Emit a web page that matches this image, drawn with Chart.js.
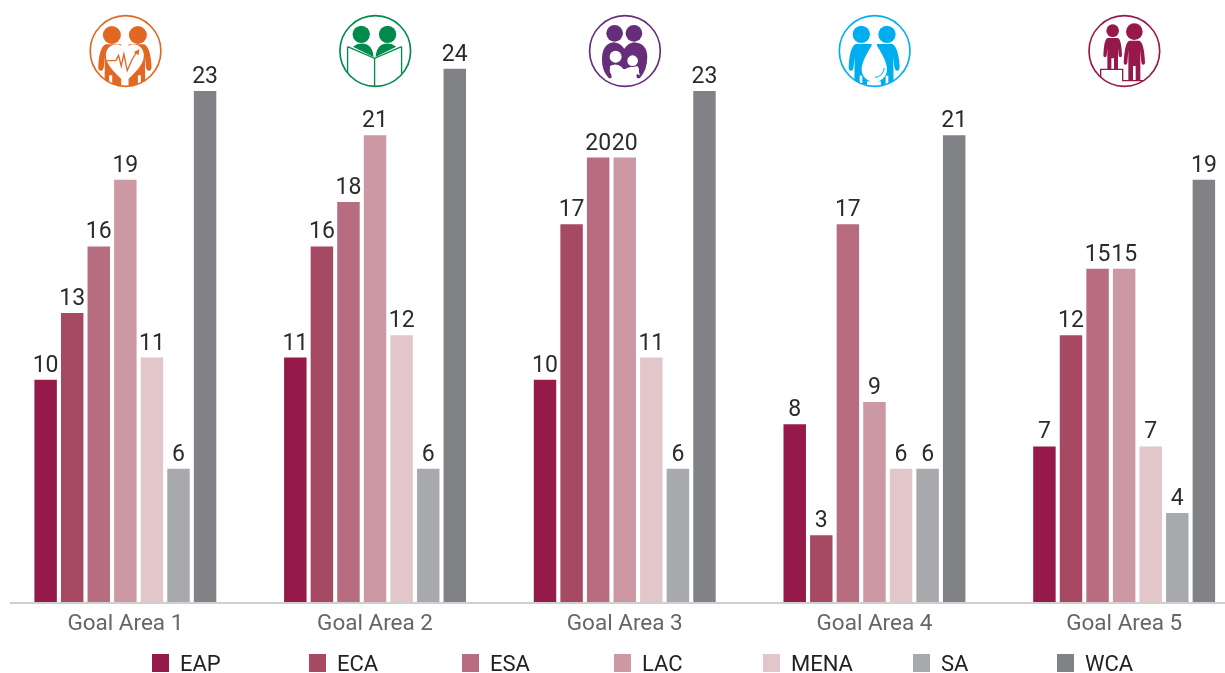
<!DOCTYPE html>
<html>
<head>
<meta charset="utf-8">
<style>
html,body{margin:0;padding:0;background:#fff;overflow:hidden;width:1225px;height:673px}
canvas{display:block}
</style>
<script src="https://cdn.jsdelivr.net/npm/chart.js@4"></script>
</head>
<body>
<canvas id="c" width="1250" height="673" style="width:1250px;height:673px"></canvas>
<script>
const categories = ['Goal Area 1','Goal Area 2','Goal Area 3','Goal Area 4','Goal Area 5'];
const seriesNames = ['EAP','ECA','ESA','LAC','MENA','SA','WCA'];
const EAP  = [10,11,10,8,7];
const ECA  = [13,16,17,3,12];
const ESA  = [16,18,20,17,15];
const LAC  = [19,21,20,9,15];
const MENA = [11,12,11,6,7];
const SA   = [6,6,6,6,4];
const WCA  = [23,24,23,21,19];
const seriesValues = [EAP,ECA,ESA,LAC,MENA,SA,WCA];
const seriesColors = ['#961A49','#A64A64','#B76C80','#CB98A3','#E2C6CA','#A7A9AC','#808285'];
const legendBoxX = [152,309,462,614,763,913,1057];
const iconColors = ['#E26722','#008A4B','#662D7B','#00AEEF','#97184A'];

/* Icon artwork in a 246-unit box centred on (123,123) */
const W='#fff';
function iconDrawer(i,ctx,C){
  const fill=(d,c)=>{ctx.fillStyle=c||C;ctx.fill(new Path2D(d));};
  const line=(d,lw,c)=>{ctx.strokeStyle=c||C;ctx.lineWidth=lw;ctx.lineJoin='miter';ctx.stroke(new Path2D(d));};
  const disc=(x,y,r,c)=>{ctx.fillStyle=c||C;ctx.beginPath();ctx.arc(x,y,r,0,Math.PI*2);ctx.fill();};
  if(i===0){
    disc(82,75,27);disc(160,75,27);
    fill('M64 103 Q44 110 41 170 Q41 182 49 182 Q56 182 58 170 L61 140 L60 232 L110 232 L110 103 Z');
    fill('M178 103 Q198 110 201 170 Q201 182 193 182 Q186 182 184 170 L181 140 L182 232 L132 232 L132 103 Z');
    fill('M121 117 C110 96 64 96 64 137 C64 167 100 197 121 216 C142 197 178 167 178 137 C178 96 132 96 121 117Z',W);
    ctx.fillStyle=W;ctx.fillRect(74,196,9,40);ctx.fillRect(160,196,9,40);
    line('M68 152 L94 152 L102 136 L110 168 L118 132 L128 182 L142 150 L156 126',4);
    fill('M148 126 L164 118 L162 136 Z');
  } else if(i===1){
    disc(81,73,26);disc(160,73,26);
    fill('M56 110 Q76 94 100 104 Q116 114 118 141 Z');
    fill('M186 110 Q166 94 142 104 Q126 114 124 141 Z');
    line('M40 110 L121 145 L202 110 M40 110 L40 190 M202 110 L202 190 M121 145 L121 232',4);
  } else if(i===2){
    disc(92,70,25);disc(150,70,25);
    fill('M90 97 Q54 100 54 150 Q54 182 74 204 Q86 208 82 194 Q72 178 84 168 L122 178 L160 168 Q172 180 158 194 Q156 208 168 204 Q190 180 190 142 Q190 100 150 97 Q132 100 121 116 Q110 100 90 97Z');
    disc(95,140,18,W);disc(146,152,16,W);
    fill('M78 168 Q95 158 112 170 L120 180 L130 174 Q146 166 162 178 L168 196 L150 188 Q136 186 122 186 Q100 176 78 188 Z',W);
  } else if(i===3){
    disc(83,73,26);disc(160,73,26);
    fill('M66 102 Q48 110 45 170 Q45 182 52 182 Q59 182 60 170 L63 140 L62 232 L114 232 L114 102 Z');
    fill('M176 102 Q194 110 198 170 Q198 182 191 182 Q184 182 182 170 L179 140 L180 232 L130 232 L130 102 Z');
    fill('M122 95 Q84 150 84 178 A38 38 0 0 0 160 178 Q160 150 122 95Z',W);
    ctx.fillStyle=W;ctx.fillRect(78,197,8,40);ctx.fillRect(156,197,8,40);ctx.fillRect(100,214,42,16);
    line('M124 202 Q148 200 152 174',3);
  } else {
    disc(88,62,19);disc(153,65,25);
    fill('M72 84 Q62 88 60 135 Q60 142 65 142 Q69 142 70 136 L72 115 L72 177 L84 177 L84 145 L92 145 L92 177 L104 177 L104 115 L106 136 Q107 142 111 142 Q116 142 116 135 Q114 88 104 84 Z');
    fill('M138 92 Q124 96 121 158 Q121 164 126 164 Q131 164 132 158 L135 120 L135 210 L149 210 L149 168 L157 168 L157 210 L171 210 L171 120 L174 158 Q175 164 180 164 Q185 164 185 158 Q182 96 168 92 Z');
    line('M52 212 L52 178 L118 178 L118 212 L180 212',4);
  }
}
const iconPlugin={
  id:'icons',
  afterDatasetsDraw(chart){
    const ctx=chart.ctx,sx=chart.scales.x;
    categories.forEach((c,i)=>{
      ctx.save();
      ctx.translate(sx.getPixelForTick(i)+0.2,51);
      ctx.scale(1/3,1/3);
      ctx.translate(-123,-123);
      ctx.save();
      ctx.beginPath();ctx.arc(123,123,106,0,Math.PI*2);ctx.clip();
      iconDrawer(i,ctx,iconColors[i]);
      ctx.restore();
      ctx.strokeStyle=iconColors[i];ctx.lineWidth=5;
      ctx.beginPath();ctx.arc(123,123,106,0,Math.PI*2);ctx.stroke();
      ctx.restore();
    });
  }
};
const axisLine={
  id:'axisLine',
  beforeDatasetsDraw(chart){
    const ctx=chart.ctx,y=chart.scales.y.getPixelForValue(0);
    ctx.save();ctx.strokeStyle='#cfcfcf';ctx.lineWidth=2;
    ctx.beginPath();ctx.moveTo(10,y+1);ctx.lineTo(1225,y+1);ctx.stroke();ctx.restore();
  }
};
const valueLabels={
  id:'valueLabels',
  afterDatasetsDraw(chart){
    const ctx=chart.ctx;
    ctx.save();
    ctx.font='23px Roboto';ctx.fillStyle='#2b2b2b';ctx.textAlign='center';ctx.textBaseline='alphabetic';
    chart.data.datasets.forEach((ds,d)=>{
      chart.getDatasetMeta(d).data.forEach((bar,i)=>{
        ctx.fillText(String(ds.data[i]),bar.x,bar.y-8);
      });
    });
    ctx.restore();
  }
};
const legendRow={
  id:'legendRow',
  afterDraw(chart){
    const ctx=chart.ctx;
    ctx.save();
    ctx.font='22px Roboto';ctx.textAlign='left';ctx.textBaseline='alphabetic';
    seriesNames.forEach((n,i)=>{
      ctx.fillStyle=seriesColors[i];ctx.fillRect(legendBoxX[i],654,17,18);
      ctx.fillStyle='#222';ctx.fillText(n,legendBoxX[i]+28,671);
    });
    ctx.restore();
  }
};
new Chart(document.getElementById('c'),{
  type:'bar',
  data:{labels:categories,datasets:seriesNames.map((n,i)=>({label:n,data:seriesValues[i],backgroundColor:seriesColors[i],borderWidth:0}))},
  options:{
    responsive:false,animation:false,
    layout:{padding:{left:0.5,right:1,top:2,bottom:0}},
    categoryPercentage:0.745,barPercentage:0.845,
    plugins:{legend:{display:false},tooltip:{enabled:false},title:{display:false}},
    scales:{
      x:{grid:{display:false},border:{display:false},
         ticks:{color:'#666',font:{family:'Roboto',size:22.5},padding:1,maxRotation:0,autoSkip:false},
         afterFit(s){s.height=71;}},
      y:{display:false,min:0,max:27}
    }
  },
  plugins:[axisLine,valueLabels,iconPlugin,legendRow]
});
</script>
</body>
</html>
